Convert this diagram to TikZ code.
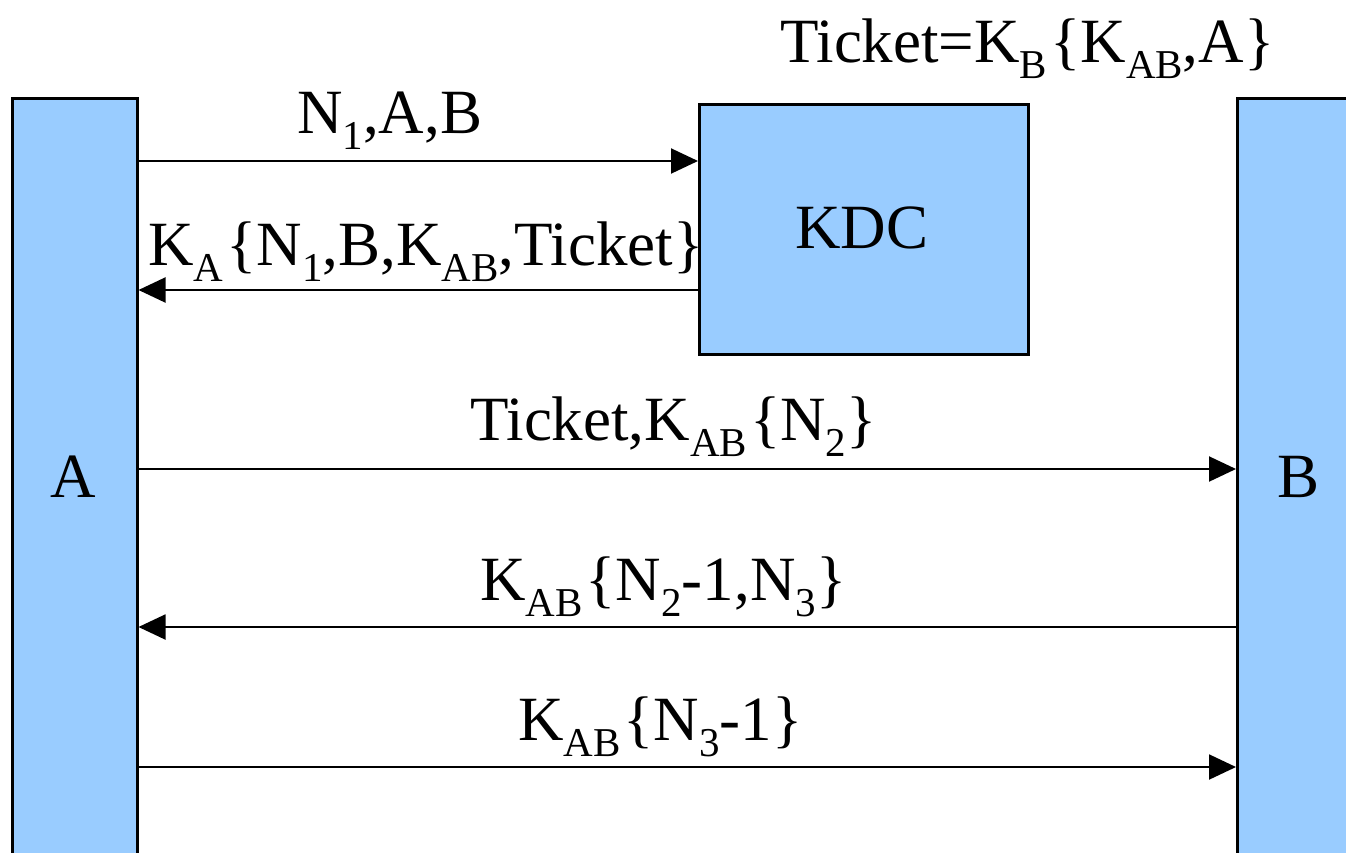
\documentclass[tikz,border=0pt]{standalone}
\usepackage{fontspec}
\setmainfont{LiberationSerif}[Extension=.ttf, UprightFont=*-Regular, BoldFont=*-Bold, ItalicFont=*-Italic, BoldItalicFont=*-BoldItalic]
\usetikzlibrary{arrows.meta}
% lowered, smaller subscript as used in the key notation
\newcommand\lo[1]{\raisebox{-0.26em}{\fontsize{41}{44}\selectfont #1}}
\definecolor{boxblue}{HTML}{99CCFF}
\begin{document}
\begin{tikzpicture}[x=1pt,y=-1pt,
  party/.style={draw=black, fill=boxblue, line width=2.5pt, anchor=north west, inner sep=0pt},
  msg/.style={line width=2pt, -{Triangle[length=27pt,width=25pt]}},
  lbl/.style={anchor=base west, inner sep=0pt, font=\rmfamily\fontsize{63}{70}\selectfont},
  partyname/.style={anchor=base, inner sep=0pt, font=\rmfamily\fontsize{63}{70}\selectfont}]
\useasboundingbox (0,0) rectangle (1346,852);
\clip (0,0) rectangle (1346,852);

% principals
\node[party, minimum width=125pt, minimum height=820pt] (A) at (11,97) {};
\node[party, minimum width=150pt, minimum height=820pt] (B) at (1236,97) {};
\node[party, minimum width=329pt, minimum height=250pt] (KDC) at (698,103) {};

\node[partyname] (nA) at (73.5,497) {A};
\node[partyname] (nB) at (1298,497) {B};
\node[partyname] (nK) at (862,248) {KDC};

% message rows
\coordinate (r1) at (0,161);
\coordinate (r2) at (0,290);
\coordinate (r3) at (0,469);
\coordinate (r4) at (0,627);
\coordinate (r5) at (0,767);

\draw[msg] (A.east |- r1) -- (KDC.west |- r1);
\draw[msg] (KDC.west |- r2) -- (A.east |- r2);
\draw[msg] (A.east |- r3) -- (B.west |- r3);
\draw[msg] (B.west |- r4) -- (A.east |- r4);
\draw[msg] (A.east |- r5) -- (B.west |- r5);

% message texts
\node[lbl] (t0) at (780,62) {Ticket=K\lo{B}\kern3pt\{K\lo{AB},A\}};
\node[lbl] (t1) at (297,133) {N\lo{1},A,B};
\node[lbl] (t2) at (148,265) {K\lo{A}\kern3pt\{N\lo{1},B,K\lo{AB},Ticket\}};
\node[lbl] (t3) at (470,440) {Ticket,K\lo{AB}\kern3pt\{N\lo{2}\}};
\node[lbl] (t4) at (480,600) {K\lo{AB}\kern3pt\{N\lo{2}-1,N\lo{3}\}};
\node[lbl] (t5) at (518,740) {K\lo{AB}\kern3pt\{N\lo{3}-1\}};
\end{tikzpicture}
\end{document}
